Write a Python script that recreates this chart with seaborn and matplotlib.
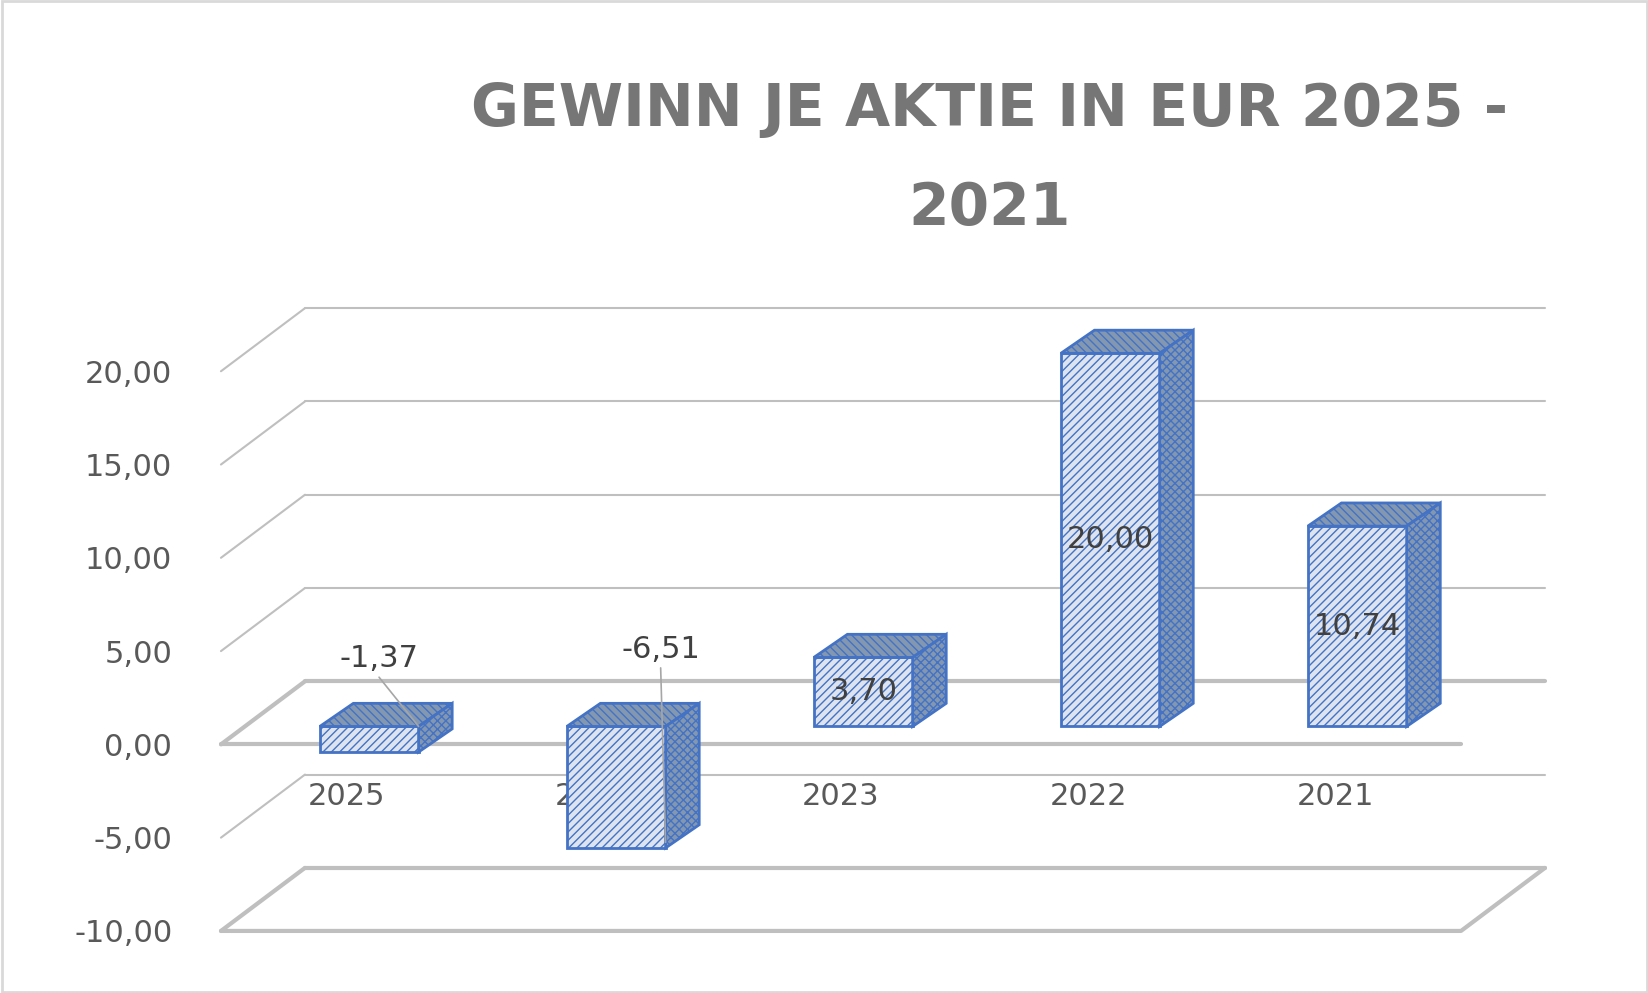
import matplotlib
matplotlib.use("Agg")
import matplotlib.pyplot as plt
import seaborn as sns
import pandas as pd
from matplotlib.patches import Polygon

# Daten
jahre = ["2025", "2024", "2023", "2022", "2021"]
gewinn = [-1.37, -6.51, 3.70, 20.00, 10.74]
labels = ["-1,37", "-6,51", "3,70", "20,00", "10,74"]
ticks = [-10, -5, 0, 5, 10, 15, 20]

df = pd.DataFrame({"jahr": jahre, "wert": gewinn})

sns.set_style("white")
plt.rcParams['font.family'] = ['DejaVu Sans']
fig = plt.figure(figsize=(16.49, 9.93), dpi=100)
ax = fig.add_axes([0.134, 0.0625, 0.752, 0.62])

sns.barplot(data=df, x="jahr", y="wert", ax=ax, color="#dae3f3", width=0.4,
            edgecolor="#4472C4", linewidth=2, hatch="////", zorder=5)
ax.set_xlim(-0.51, 4.51)
ax.set_ylim(-10, 23)

# Tiefe / Versatz
wx, wy = 0.34, 3.38    # Rückwand
bx, by = 0.09, 0.96    # Säulen
tx, ty = 0.136, 1.24   # Säulentiefe
grau = "#bfbfbf"

for t in ticks:
    lw = 3 if t in (0, -10) else 1.5
    ax.plot([-0.51, -0.51 + wx], [t, t + wy], color=grau, lw=lw, clip_on=False, zorder=1)
    ax.plot([-0.51 + wx, 4.51 + wx], [t + wy, t + wy], color=grau, lw=lw, clip_on=False, zorder=1)
ax.plot([-0.51, 4.51], [0, 0], color=grau, lw=3, clip_on=False, zorder=2)
ax.plot([-0.51, 4.51, 4.51 + wx], [-10, -10, -10 + wy], color=grau, lw=3, clip_on=False, zorder=2)

for p, v, lab in zip(ax.patches, gewinn, labels):
    p.set_x(p.get_x() + bx)
    p.set_y(by)
    x0, w = p.get_x(), p.get_width()
    top = max(v, 0) + by
    bot = min(v, 0) + by
    ax.add_patch(Polygon([(x0, top), (x0 + w, top), (x0 + w + tx, top + ty), (x0 + tx, top + ty)],
                         facecolor="#8497b0", edgecolor="#4472C4", hatch="\\\\\\\\", lw=2, zorder=6))
    ax.add_patch(Polygon([(x0 + w, bot), (x0 + w + tx, bot + ty), (x0 + w + tx, top + ty), (x0 + w, top)],
                         facecolor="#8497b0", edgecolor="#4472C4", hatch="xxxx", lw=2, zorder=6))
    cx = x0 + w / 2
    if v > 0:
        ax.text(cx, by + v / 2, lab, ha="center", va="center", fontsize=22, color="#404040", zorder=8)
    else:
        ly = 4.6 if v > -5 else 5.1
        lx = cx + (0.04 if v > -5 else 0.18)
        ax.text(lx, ly, lab, ha="center", va="center", fontsize=22, color="#404040", zorder=8)
        ax.plot([lx, cx + 0.2], [ly - 1.0, by + v + 0.3 if v < -5 else by], color="#a6a6a6", lw=1.2, zorder=7)

ax.set_yticks(ticks)
ax.set_yticklabels([f"{t:.2f}".replace(".", ",") for t in ticks], fontsize=22, color="#595959")
ax.tick_params(axis="y", length=0, pad=35)
ax.set_xticks([])
ax.set_xlabel("")
ax.set_ylabel("")
for i, j in enumerate(jahre):
    ax.text(i, -2.8, j, ha="center", va="center", fontsize=22, color="#595959", zorder=4)
sns.despine(ax=ax, left=True, bottom=True)

fig.text(0.6, 0.89, "GEWINN JE AKTIE IN EUR 2025 -", ha="center", va="center",
         fontsize=42, fontweight="bold", color="#767676")
fig.text(0.6, 0.79, "2021", ha="center", va="center",
         fontsize=42, fontweight="bold", color="#767676")
fig.patches.append(plt.Rectangle((0.001, 0.001), 0.998, 0.998, transform=fig.transFigure,
                                 fill=False, edgecolor="#d9d9d9", lw=2))
fig.savefig("out.png", dpi=100)
